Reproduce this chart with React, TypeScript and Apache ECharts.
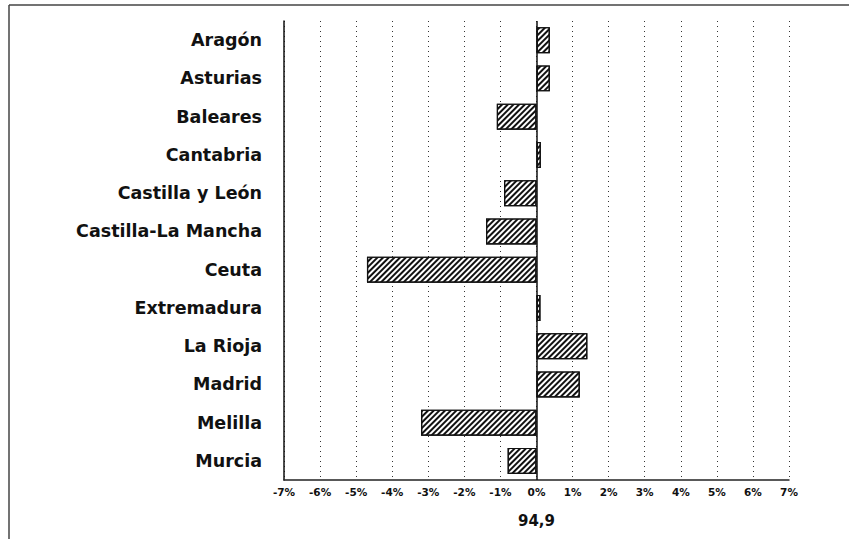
import React, { useEffect, useRef } from "react";
import * as echarts from "echarts";

const categories = [
  "Aragón",
  "Asturias",
  "Baleares",
  "Cantabria",
  "Castilla y León",
  "Castilla-La Mancha",
  "Ceuta",
  "Extremadura",
  "La Rioja",
  "Madrid",
  "Melilla",
  "Murcia",
];
const values = [0.37, 0.37, -1.1, 0.12, -0.9, -1.4, -4.7, 0.11, 1.41, 1.2, -3.2, -0.8];
const axisTitle = "94,9";
const xMin = -7;
const xMax = 7;

export default function App() {
  const ref = useRef<HTMLDivElement>(null);
  useEffect(() => {
    if (!ref.current) return;
    const chart = echarts.init(ref.current, undefined, { renderer: "svg" });
    chart.setOption({
      animation: false,
      backgroundColor: "#ffffff",
      grid: { left: 284, right: 60, top: 21, bottom: 59 },
      xAxis: {
        type: "value",
        min: xMin,
        max: xMax,
        interval: 1,
        name: axisTitle,
        nameLocation: "middle",
        nameGap: 33,
        nameTextStyle: { fontFamily: "DejaVu Sans", fontWeight: "bold", fontSize: 15, color: "#111" },
        axisLine: { show: true, onZero: false, lineStyle: { color: "#222", width: 1.5 } },
        axisTick: { show: false },
        axisLabel: {
          margin: 6,
          fontFamily: "DejaVu Sans",
          fontWeight: "bold",
          fontSize: 10.5,
          color: "#111",
          formatter: (v: number) => `${v}%`,
        },
        splitLine: { show: true, lineStyle: { color: "#333", width: 1, type: [1, 4] } },
      },
      yAxis: {
        type: "category",
        data: categories,
        inverse: true,
        axisLine: { show: true, onZero: false, lineStyle: { color: "#111", width: 1.5 } },
        axisTick: { show: false },
        axisLabel: {
          margin: 22,
          fontFamily: "DejaVu Sans",
          fontWeight: "bold",
          fontSize: 17.5,
          color: "#111",
        },
      },
      series: [
        {
          type: "bar",
          data: values,
          barWidth: 26,
          itemStyle: {
            color: "#ffffff",
            borderColor: "#111",
            borderWidth: 1.2,
            decal: {
              symbol: "rect",
              symbolSize: 1,
              color: "#111",
              dashArrayX: [1, 0],
              dashArrayY: [1.1, 1.6],
              rotation: -Math.PI / 4,
            },
          },
          markLine: {
            silent: true,
            symbol: "none",
            label: { show: false },
            lineStyle: { color: "#111", width: 1.5, type: "solid" },
            data: [{ xAxis: 0 }],
          },
        },
      ],
      graphic: [
        { type: "line", shape: { x1: 9, y1: 5, x2: 849, y2: 5 }, style: { stroke: "#444", lineWidth: 1.5 } },
        { type: "line", shape: { x1: 9, y1: 5, x2: 9, y2: 539 }, style: { stroke: "#444", lineWidth: 1.5 } },
      ],
    });
    return () => chart.dispose();
  }, []);
  return (
    <div
      ref={ref}
      style={{ position: "fixed", left: 0, top: 0, width: 849, height: 539 }}
    />
  );
}
